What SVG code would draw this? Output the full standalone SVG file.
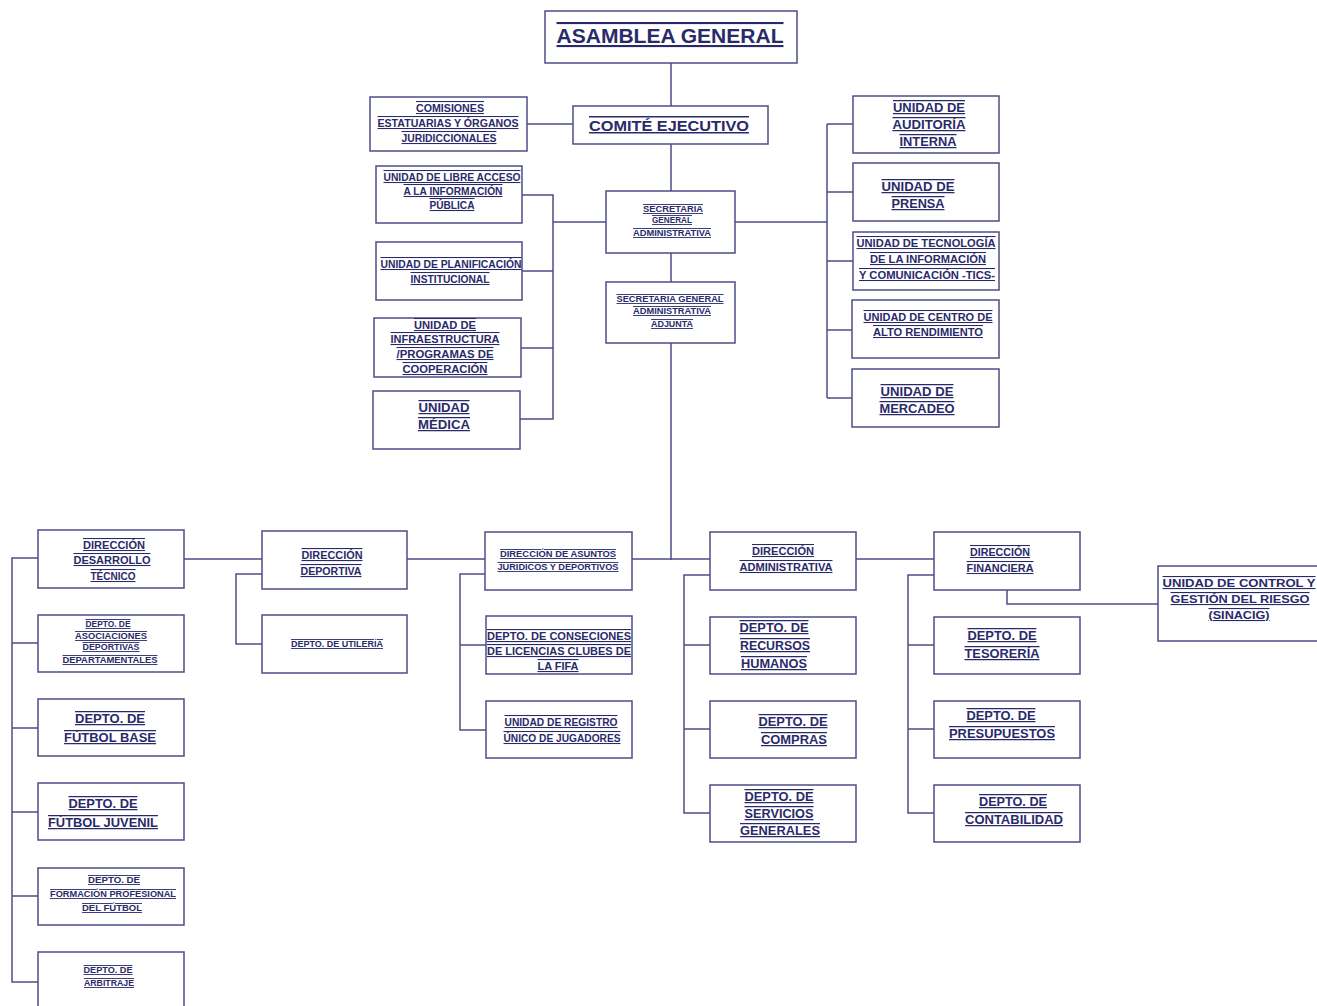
<svg xmlns="http://www.w3.org/2000/svg" width="1317" height="1006" viewBox="0 0 1317 1006">
<style>
.b{fill:#fff;stroke:#4d4d88;stroke-width:1.5}
.c{stroke:#4d4d88;stroke-width:1.5;fill:none}
text{font-family:"Liberation Sans",Arial,sans-serif;font-weight:bold;fill:#2a2a6a;text-anchor:middle;text-decoration:underline overline}
.s8{font-size:9px}.s9{font-size:9px}.s10{font-size:10.5px}.s11{font-size:11px}.s12{font-size:12.5px}
</style>
<rect width="1317" height="1006" fill="#fff"/>
<g id="connectors">
<path class="c" d="M671 63V106M671 144V191M671 253V282M671 343V560M527 124H573"/>
<path class="c" d="M522 195H553V419H520M522 271H553M521 348H553M553 222H606"/>
<path class="c" d="M735 222H827M827 124V398M827 124H853M827 192H853M827 261H853M827 330H852M827 398H852"/>
<path class="c" d="M184 559H262M407 559H485M632 559H710M856 559H934"/>
<path class="c" d="M38 558H12V982H38M12 643H38M12 728H38M12 812H38M12 896H38"/>
<path class="c" d="M262 574H236V644H262"/>
<path class="c" d="M486 574H460V730H486M460 645H486"/>
<path class="c" d="M710 575H684V813H710M684 645H710M684 729H710"/>
<path class="c" d="M934 575H908V813H934M908 645H934M908 729H934"/>
<path class="c" d="M1007 590V604H1158"/>
</g>
<g id="asamblea"><rect class="b" x="545" y="11" width="252" height="52"/><text x="670" y="43" style="font-size:21px" textLength="227" lengthAdjust="spacingAndGlyphs">ASAMBLEA GENERAL</text></g>
<g id="comite"><rect class="b" x="573" y="106" width="195" height="38"/><text x="669" y="131" style="font-size:15px" textLength="160" lengthAdjust="spacingAndGlyphs">COMITÉ EJECUTIVO</text></g>
<g id="comisiones"><rect class="b" x="370" y="97" width="157" height="54"/>
<text class="s10" x="450" y="112" textLength="68" lengthAdjust="spacingAndGlyphs">COMISIONES</text>
<text class="s10" x="448" y="127" textLength="141" lengthAdjust="spacingAndGlyphs">ESTATUARIAS Y ÓRGANOS</text>
<text class="s10" x="449" y="142" textLength="95" lengthAdjust="spacingAndGlyphs">JURIDICCIONALES</text></g>
<g id="libre"><rect class="b" x="376" y="166" width="146" height="57"/>
<text class="s10" x="452" y="181" textLength="137" lengthAdjust="spacingAndGlyphs">UNIDAD DE LIBRE ACCESO</text>
<text class="s10" x="453" y="195" textLength="99" lengthAdjust="spacingAndGlyphs">A LA INFORMACIÓN</text>
<text class="s10" x="452" y="209" textLength="45" lengthAdjust="spacingAndGlyphs">PÚBLICA</text></g>
<g id="planificacion"><rect class="b" x="376" y="242" width="146" height="58"/>
<text class="s10" x="451" y="268" textLength="141" lengthAdjust="spacingAndGlyphs">UNIDAD DE PLANIFICACIÓN</text>
<text class="s10" x="450" y="283" textLength="79" lengthAdjust="spacingAndGlyphs">INSTITUCIONAL</text></g>
<g id="infraestructura"><rect class="b" x="374" y="318" width="147" height="59"/>
<text class="s10" x="445" y="329" textLength="62" lengthAdjust="spacingAndGlyphs">UNIDAD DE</text>
<text class="s10" x="445" y="343" textLength="109" lengthAdjust="spacingAndGlyphs">INFRAESTRUCTURA</text>
<text class="s10" x="445" y="358" textLength="97" lengthAdjust="spacingAndGlyphs">/PROGRAMAS DE</text>
<text class="s10" x="445" y="373" textLength="85" lengthAdjust="spacingAndGlyphs">COOPERACIÓN</text></g>
<g id="medica"><rect class="b" x="373" y="391" width="147" height="58"/>
<text class="s12" x="444" y="412" textLength="51" lengthAdjust="spacingAndGlyphs">UNIDAD</text>
<text class="s12" x="444" y="429" textLength="52" lengthAdjust="spacingAndGlyphs">MÉDICA</text></g>
<g id="secretaria"><rect class="b" x="606" y="191" width="129" height="62"/>
<text class="s8" x="673" y="212" textLength="60" lengthAdjust="spacingAndGlyphs">SECRETARIA</text>
<text class="s8" x="672" y="223" textLength="40" lengthAdjust="spacingAndGlyphs">GENERAL</text>
<text class="s8" x="672" y="236" textLength="78" lengthAdjust="spacingAndGlyphs">ADMINISTRATIVA</text></g>
<g id="adjunta"><rect class="b" x="606" y="282" width="129" height="61"/>
<text class="s8" x="670" y="302" textLength="107" lengthAdjust="spacingAndGlyphs">SECRETARIA GENERAL</text>
<text class="s8" x="672" y="314" textLength="78" lengthAdjust="spacingAndGlyphs">ADMINISTRATIVA</text>
<text class="s8" x="672" y="327" textLength="42" lengthAdjust="spacingAndGlyphs">ADJUNTA</text></g>
<g id="auditoria"><rect class="b" x="853" y="96" width="146" height="57"/>
<text class="s12" x="929" y="112" textLength="72" lengthAdjust="spacingAndGlyphs">UNIDAD DE</text>
<text class="s12" x="929" y="129" textLength="73" lengthAdjust="spacingAndGlyphs">AUDITORÍA</text>
<text class="s12" x="928" y="146" textLength="57" lengthAdjust="spacingAndGlyphs">INTERNA</text></g>
<g id="prensa"><rect class="b" x="853" y="163" width="146" height="58"/>
<text class="s12" x="918" y="191" textLength="73" lengthAdjust="spacingAndGlyphs">UNIDAD DE</text>
<text class="s12" x="918" y="208" textLength="53" lengthAdjust="spacingAndGlyphs">PRENSA</text></g>
<g id="tecnologia"><rect class="b" x="853" y="232" width="146" height="58"/>
<text class="s10" x="926" y="247" textLength="139" lengthAdjust="spacingAndGlyphs">UNIDAD DE TECNOLOGÍA</text>
<text class="s10" x="928" y="263" textLength="116" lengthAdjust="spacingAndGlyphs">DE LA INFORMACIÓN</text>
<text class="s10" x="927" y="279" textLength="136" lengthAdjust="spacingAndGlyphs">Y COMUNICACIÓN -TICS-</text></g>
<g id="centro"><rect class="b" x="852" y="300" width="147" height="58"/>
<text class="s10" x="928" y="321" textLength="129" lengthAdjust="spacingAndGlyphs">UNIDAD DE CENTRO DE</text>
<text class="s10" x="928" y="336" textLength="110" lengthAdjust="spacingAndGlyphs">ALTO RENDIMIENTO</text></g>
<g id="mercadeo"><rect class="b" x="852" y="369" width="147" height="58"/>
<text class="s12" x="917" y="396" textLength="73" lengthAdjust="spacingAndGlyphs">UNIDAD DE</text>
<text class="s12" x="917" y="413" textLength="75" lengthAdjust="spacingAndGlyphs">MERCADEO</text></g>
<g id="desarrollo"><rect class="b" x="38" y="530" width="146" height="58"/>
<text class="s10" x="114" y="549" textLength="62" lengthAdjust="spacingAndGlyphs">DIRECCIÓN</text>
<text class="s10" x="112" y="564" textLength="77" lengthAdjust="spacingAndGlyphs">DESARROLLO</text>
<text class="s10" x="113" y="580" textLength="45" lengthAdjust="spacingAndGlyphs">TÉCNICO</text></g>
<g id="asociaciones"><rect class="b" x="38" y="615" width="146" height="57"/>
<text class="s8" x="108" y="627" textLength="45" lengthAdjust="spacingAndGlyphs">DEPTO. DE</text>
<text class="s8" x="111" y="639" textLength="72" lengthAdjust="spacingAndGlyphs">ASOCIACIONES</text>
<text class="s8" x="111" y="650" textLength="57" lengthAdjust="spacingAndGlyphs">DEPORTIVAS</text>
<text class="s8" x="110" y="663" textLength="95" lengthAdjust="spacingAndGlyphs">DEPARTAMENTALES</text></g>
<g id="futbolbase"><rect class="b" x="38" y="699" width="146" height="57"/>
<text class="s12" x="110" y="723" textLength="70" lengthAdjust="spacingAndGlyphs">DEPTO. DE</text>
<text class="s12" x="110" y="742" textLength="92" lengthAdjust="spacingAndGlyphs">FÚTBOL BASE</text></g>
<g id="futboljuvenil"><rect class="b" x="38" y="783" width="146" height="57"/>
<text class="s12" x="103" y="808" textLength="69" lengthAdjust="spacingAndGlyphs">DEPTO. DE</text>
<text class="s12" x="103" y="827" textLength="110" lengthAdjust="spacingAndGlyphs">FÚTBOL JUVENIL</text></g>
<g id="formacion"><rect class="b" x="38" y="868" width="146" height="57"/>
<text class="s8" x="114" y="883" textLength="52" lengthAdjust="spacingAndGlyphs">DEPTO. DE</text>
<text class="s8" x="113" y="897" textLength="126" lengthAdjust="spacingAndGlyphs">FORMACIÓN PROFESIONAL</text>
<text class="s8" x="112" y="911" textLength="60" lengthAdjust="spacingAndGlyphs">DEL FÚTBOL</text></g>
<g id="arbitraje"><rect class="b" x="38" y="952" width="146" height="60"/>
<text class="s8" x="108" y="973" textLength="49" lengthAdjust="spacingAndGlyphs">DEPTO. DE</text>
<text class="s8" x="109" y="986" textLength="50" lengthAdjust="spacingAndGlyphs">ARBITRAJE</text></g>
<g id="deportiva"><rect class="b" x="262" y="531" width="145" height="58"/>
<text class="s11" x="332" y="559" textLength="61" lengthAdjust="spacingAndGlyphs">DIRECCIÓN</text>
<text class="s11" x="331" y="575" textLength="61" lengthAdjust="spacingAndGlyphs">DEPORTIVA</text></g>
<g id="utileria"><rect class="b" x="262" y="615" width="145" height="58"/>
<text class="s8" x="337" y="647" textLength="92" lengthAdjust="spacingAndGlyphs">DEPTO. DE UTILERÍA</text></g>
<g id="asuntos"><rect class="b" x="485" y="532" width="147" height="58"/>
<text class="s8" x="558" y="557" textLength="116" lengthAdjust="spacingAndGlyphs">DIRECCIÓN DE  ASUNTOS</text>
<text class="s8" x="558" y="570" textLength="121" lengthAdjust="spacingAndGlyphs">JURIDICOS Y DEPORTIVOS</text></g>
<g id="conseciones"><rect class="b" x="486" y="616" width="146" height="58"/>
<text class="s11" x="559" y="640" textLength="144" lengthAdjust="spacingAndGlyphs">DEPTO. DE CONSECIONES</text>
<text class="s11" x="559" y="655" textLength="144" lengthAdjust="spacingAndGlyphs">DE LICENCIAS CLUBES DE</text>
<text class="s11" x="558" y="670" textLength="41" lengthAdjust="spacingAndGlyphs">LA FIFA</text></g>
<g id="registro"><rect class="b" x="486" y="701" width="146" height="57"/>
<text class="s10" x="561" y="726" textLength="113" lengthAdjust="spacingAndGlyphs">UNIDAD DE REGISTRO</text>
<text class="s10" x="562" y="742" textLength="117" lengthAdjust="spacingAndGlyphs">ÚNICO DE JUGADORES</text></g>
<g id="administrativa"><rect class="b" x="710" y="532" width="146" height="58"/>
<text class="s10" x="783" y="555" textLength="62" lengthAdjust="spacingAndGlyphs">DIRECCIÓN</text>
<text class="s10" x="786" y="571" textLength="93" lengthAdjust="spacingAndGlyphs">ADMINISTRATIVA</text></g>
<g id="rrhh"><rect class="b" x="710" y="617" width="146" height="57"/>
<text class="s12" x="774" y="632" textLength="69" lengthAdjust="spacingAndGlyphs">DEPTO. DE</text>
<text class="s12" x="775" y="650" textLength="70" lengthAdjust="spacingAndGlyphs">RECURSOS</text>
<text class="s12" x="774" y="668" textLength="66" lengthAdjust="spacingAndGlyphs">HUMANOS</text></g>
<g id="compras"><rect class="b" x="710" y="701" width="146" height="57"/>
<text class="s12" x="793" y="726" textLength="69" lengthAdjust="spacingAndGlyphs">DEPTO. DE</text>
<text class="s12" x="794" y="744" textLength="66" lengthAdjust="spacingAndGlyphs">COMPRAS</text></g>
<g id="servicios"><rect class="b" x="710" y="785" width="146" height="57"/>
<text class="s12" x="779" y="801" textLength="69" lengthAdjust="spacingAndGlyphs">DEPTO. DE</text>
<text class="s12" x="779" y="818" textLength="69" lengthAdjust="spacingAndGlyphs">SERVICIOS</text>
<text class="s12" x="780" y="835" textLength="80" lengthAdjust="spacingAndGlyphs">GENERALES</text></g>
<g id="financiera"><rect class="b" x="934" y="532" width="146" height="58"/>
<text class="s10" x="1000" y="556" textLength="60" lengthAdjust="spacingAndGlyphs">DIRECCIÓN</text>
<text class="s10" x="1000" y="572" textLength="67" lengthAdjust="spacingAndGlyphs">FINANCIERA</text></g>
<g id="tesoreria"><rect class="b" x="934" y="617" width="146" height="57"/>
<text class="s12" x="1002" y="640" textLength="69" lengthAdjust="spacingAndGlyphs">DEPTO. DE</text>
<text class="s12" x="1002" y="658" textLength="75" lengthAdjust="spacingAndGlyphs">TESORERÍA</text></g>
<g id="presupuestos"><rect class="b" x="934" y="701" width="146" height="57"/>
<text class="s12" x="1001" y="720" textLength="69" lengthAdjust="spacingAndGlyphs">DEPTO. DE</text>
<text class="s12" x="1002" y="738" textLength="106" lengthAdjust="spacingAndGlyphs">PRESUPUESTOS</text></g>
<g id="contabilidad"><rect class="b" x="934" y="785" width="146" height="57"/>
<text class="s12" x="1013" y="806" textLength="68" lengthAdjust="spacingAndGlyphs">DEPTO. DE</text>
<text class="s12" x="1014" y="824" textLength="98" lengthAdjust="spacingAndGlyphs">CONTABILIDAD</text></g>
<g id="sinacig"><rect class="b" x="1158" y="566" width="165" height="75"/>
<text class="s11" x="1239" y="587" textLength="153" lengthAdjust="spacingAndGlyphs">UNIDAD DE CONTROL Y</text>
<text class="s11" x="1240" y="603" textLength="139" lengthAdjust="spacingAndGlyphs">GESTIÓN DEL RIESGO</text>
<text class="s11" x="1239" y="619" textLength="61" lengthAdjust="spacingAndGlyphs">(SINACIG)</text></g>
</svg>
